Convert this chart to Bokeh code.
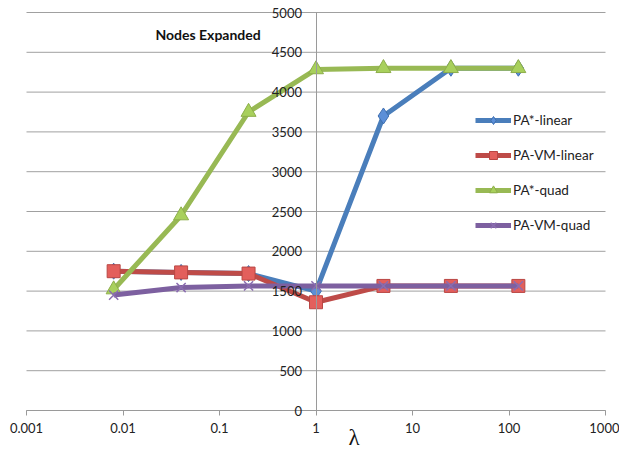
import math
from bokeh.plotting import figure
from bokeh.models import Label, Legend, LegendItem, FixedTicker, Range1d
from bokeh.embed import file_html
from bokeh.resources import INLINE

# data
lam = [0.008, 0.04, 0.2, 1, 5, 25, 125]
pa_linear = [1750, 1735, 1720, 1500, 3700, 4300, 4300]
pavm_linear = [1750, 1735, 1720, 1360, 1565, 1565, 1565]
pa_quad = [1520, 2450, 3750, 4285, 4300, 4300, 4300]
pavm_quad = [1450, 1545, 1565, 1565, 1565, 1565, 1565]
x_ticks = [0.001, 0.01, 0.1, 1, 10, 100, 1000]
x_tick_labels = {0.001: "0.001", 0.01: "0.01", 0.1: "0.1", 1: "1", 10: "10", 100: "100", 1000: "1000"}
y_ticks = [0, 500, 1000, 1500, 2000, 2500, 3000, 3500, 4000, 4500, 5000]

FONT = "Lato"
W, H = 619, 450
# plot area inside the canvas (pixels): left, right, top, bottom
L, R, T, B = 26, 605, 12, 410
dec_px = (R - L) / (math.log10(x_ticks[-1]) - math.log10(x_ticks[0]))
x0 = 10 ** (math.log10(x_ticks[0]) - L / dec_px)
x1 = 10 ** (math.log10(x_ticks[-1]) + (W - R) / dec_px)
ypx = (B - T) / (y_ticks[-1] - y_ticks[0])
y0 = y_ticks[0] - (H - B) / ypx
y1 = y_ticks[-1] + T / ypx

p = figure(width=W, height=H, x_axis_type="log", output_backend="svg",
           toolbar_location=None, x_range=Range1d(x0, x1), y_range=Range1d(y0, y1),
           min_border_left=0, min_border_right=0, min_border_top=0, min_border_bottom=0)
p.outline_line_color = None
p.background_fill_color = "white"
p.xgrid.grid_line_color = None
p.ygrid.grid_line_color = None

# horizontal gridlines spanning the category range
n = len(y_ticks)
p.segment(x0=[x_ticks[0]] * n, x1=[x_ticks[-1]] * n, y0=y_ticks, y1=y_ticks,
          line_color="#a0a0a0", line_width=1)

# x axis at y = 0
p.xaxis.fixed_location = 0
p.xaxis.bounds = (x_ticks[0], x_ticks[-1])
p.xaxis.ticker = FixedTicker(ticks=x_ticks)
p.xaxis.major_label_overrides = x_tick_labels
p.xaxis.minor_tick_line_color = None
p.xaxis.axis_line_color = "#9a9a9a"
p.xaxis.major_tick_line_color = "#9a9a9a"
p.xaxis.major_tick_out = 5
p.xaxis.major_tick_in = 0
p.xaxis.major_label_standoff = 7
p.xaxis.major_label_text_font = FONT
p.xaxis.major_label_text_font_size = "13px"
p.xaxis.major_label_text_color = "#222222"

# vertical axis crossing at lambda = 1
p.yaxis.fixed_location = 1
p.yaxis.bounds = (y_ticks[0], y_ticks[-1])
p.yaxis.ticker = FixedTicker(ticks=y_ticks)
p.yaxis.minor_tick_line_color = None
p.yaxis.major_tick_out = 0
p.yaxis.major_tick_in = 0
p.yaxis.axis_line_color = "#9a9a9a"
p.yaxis.major_label_standoff = 14
p.yaxis.major_label_text_font = FONT
p.yaxis.major_label_text_font_size = "13px"
p.yaxis.major_label_text_color = "#222222"

series = [
    ("PA*-linear", pa_linear, "#4A7EBB", "diamond", "#5B8FD8", "#3F6FB0", 16),
    ("PA-VM-linear", pavm_linear, "#BE4B48", "square", "#E35F5C", "#B94744", 13),
    ("PA*-quad", pa_quad, "#98B954", "triangle", "#A8D05C", "#8DAE4A", 15),
    ("PA-VM-quad", pavm_quad, "#7D60A0", "x", "#8B6DB0", "#8B6DB0", 13),
]

items = []
for name, ys, lc, mk, fc, mlc, sz in series:
    r1 = p.line(lam, ys, line_color=lc, line_width=5, line_join="round")
    r2 = p.scatter(lam, ys, marker=mk, size=sz, fill_color=fc, line_color=mlc,
                   line_width=1.5 if mk == "x" else 1)
    items.append(LegendItem(label=name, renderers=[r1, r2]))

legend = Legend(items=items, location=(475, 215), padding=0, margin=0,
                border_line_color=None, background_fill_alpha=0,
                label_text_font=FONT, label_text_font_size="13.5px", label_text_color="#222222",
                glyph_width=36, glyph_height=20, label_height=20, label_standoff=2, spacing=15)
p.add_layout(legend)

title = Label(x=0.0217, y=4720, text="Nodes Expanded", text_font=FONT, text_font_size="14px",
              text_font_style="bold", text_baseline="middle", text_align="left", text_color="#111111")
p.add_layout(title)

lam_label = Label(x=2.48, y=-335, text="λ", text_font="Liberation Serif", text_font_size="23px",
                  text_baseline="middle", text_align="center", text_color="#111111")
p.add_layout(lam_label)

open("out.html", "w").write(file_html(p, INLINE))
